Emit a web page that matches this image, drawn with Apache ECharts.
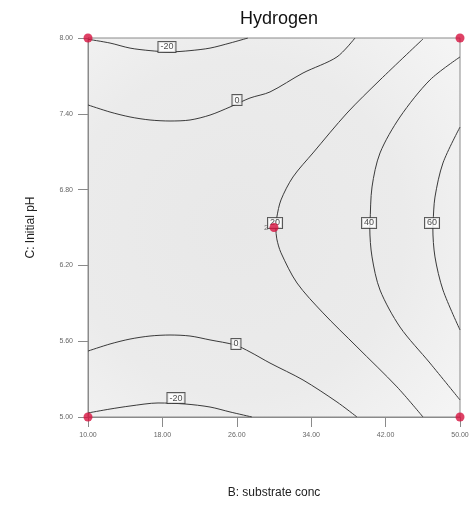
<!DOCTYPE html>
<html>
<head>
<meta charset="utf-8">
<script src="https://cdn.jsdelivr.net/npm/echarts@6/dist/echarts.min.js"></script>
<style>
html,body{margin:0;padding:0;background:#fff;}
#chart{width:476px;height:517px;}
</style>
</head>
<body>
<div id="chart"></div>
<script>
const xTicks = [10, 18, 26, 34, 42, 50];
const yTicks = [5.0, 5.6, 6.2, 6.8, 7.4, 8.0];

const contourNeg20Top = [[10,7.99],[12.37,7.96],[14.52,7.92],[16.67,7.90],[18.82,7.89],[20.97,7.90],[23.12,7.92],[25.27,7.96],[27.2,8.0]];
const contour0Top = [[10,7.47],[12.37,7.414],[14.52,7.375],[16.67,7.351],[18.82,7.343],[20.97,7.351],[23.12,7.39],[25.27,7.454],[27.42,7.525],[29.57,7.573],[33.12,7.723],[36.77,7.85],[38.71,8.0]];
const contour20 = [[46.02,7.992],[41.40,7.668],[37.85,7.406],[34.19,7.09],[32.04,6.9],[30.75,6.718],[30.3,6.58],[30.2,6.496],[30.3,6.41],[30.75,6.3],[32.47,6.061],[35.27,5.824],[38.92,5.555],[43.23,5.238],[46.02,5.0]];
const contour40 = [[50,7.85],[46.77,7.668],[43.55,7.375],[41.40,7.09],[40.54,6.821],[40.32,6.536],[40.3,6.496],[40.54,6.267],[41.40,6.005],[43.55,5.712],[46.77,5.427],[50,5.135]];
const contour60 = [[50,7.295],[48.17,7.011],[47.31,6.741],[47.10,6.536],[47.08,6.496],[47.31,6.267],[48.17,6.005],[50,5.689]];
const contour0Bottom = [[10,5.522],[12.37,5.578],[14.52,5.617],[16.67,5.641],[18.82,5.649],[20.97,5.641],[23.12,5.61],[25.81,5.57],[27.42,5.515],[29.57,5.427],[33.12,5.293],[36.77,5.119],[38.92,5.0]];
const contourNeg20Bottom = [[10,5.032],[12.37,5.063],[14.52,5.087],[17.53,5.111],[20.43,5.103],[23.12,5.079],[25.27,5.04],[27.63,5.0]];

const contourLines = [contourNeg20Top, contour0Top, contour20, contour40, contour60, contour0Bottom, contourNeg20Bottom];

const contourLabelPos = [[18.49,7.929],[26.02,7.509],[30.11,6.536],[40.22,6.536],[46.99,6.536],[25.91,5.578],[19.46,5.150]];
const contourLabelText = ['-20','0','20','40','60','0','-20'];

const designPoints = [[10,8.0],[50,8.0],[30,6.5],[10,5.0],[50,5.0]];
const designPointLabels = ['','','2','',''];

const chart = echarts.init(document.getElementById('chart'), null, {renderer:'canvas'});

const series = [];
contourLines.forEach(function(pts){
  series.push({
    type:'line', data:pts, smooth:0.3, symbol:'none', clip:true,
    lineStyle:{color:'#3a3a3a', width:1}, z:3, silent:true
  });
});
series.push({
  type:'scatter', symbolSize:0, z:5, silent:true,
  data: contourLabelPos.map(function(p,i){return {value:p, name:contourLabelText[i]};}),
  label:{show:true, position:'inside', formatter:function(p){return p.name;},
    color:'#222', fontSize:9, fontFamily:'Liberation Sans, Arial, sans-serif',
    backgroundColor:'#ffffff', borderColor:'#333', borderWidth:1, padding:[1,2,0,2]}
});
series.push({
  type:'scatter', symbolSize:9, z:6, silent:true, clip:false,
  itemStyle:{color:'#d6123e'},
  data: designPoints.map(function(p,i){return {value:p, name:designPointLabels[i]};}),
  label:{show:true, position:'left', distance:1, formatter:function(p){return p.name;},
    color:'#555', fontSize:8, fontFamily:'Liberation Sans, Arial, sans-serif'}
});

chart.setOption({
  animation:false,
  backgroundColor:'#ffffff',
  title:{text:'Hydrogen', left:274, top:5, textAlign:'center',
    textStyle:{fontSize:18, fontWeight:'normal', color:'#111', fontFamily:'Liberation Sans, Arial, sans-serif'}},
  grid:{left:88, right:16, top:38, bottom:100, show:true, borderColor:'#8a8a8a', borderWidth:1,
    backgroundColor:{type:'radial', x:0.4, y:0.5, r:0.75,
      colorStops:[{offset:0,color:'#e8e8e8'},{offset:0.6,color:'#ebebeb'},{offset:1,color:'#f4f4f4'}]}},
  xAxis:{type:'value', min:10, max:50, interval:8,
    name:'B: substrate conc', nameLocation:'middle', nameGap:70,
    nameTextStyle:{fontSize:12, color:'#222', fontFamily:'Liberation Sans, Arial, sans-serif'},
    axisLine:{show:true, lineStyle:{color:'#8a8a8a'}},
    axisTick:{show:true, length:10, lineStyle:{color:'#8a8a8a'}},
    axisLabel:{fontSize:7, color:'#666', margin:15, fontFamily:'Liberation Sans, Arial, sans-serif',
      formatter:function(v){return v.toFixed(2);}},
    splitLine:{show:false}},
  yAxis:{type:'value', min:5, max:8, interval:0.6,
    name:'C: Initial pH', nameLocation:'middle', nameGap:51, nameRotate:90,
    nameTextStyle:{fontSize:12, color:'#222', fontFamily:'Liberation Sans, Arial, sans-serif'},
    axisLine:{show:true, lineStyle:{color:'#8a8a8a'}},
    axisTick:{show:true, length:10, lineStyle:{color:'#8a8a8a'}},
    axisLabel:{fontSize:7, color:'#666', margin:15, fontFamily:'Liberation Sans, Arial, sans-serif',
      formatter:function(v){return v.toFixed(2);}},
    splitLine:{show:false}},
  series:series
});
</script>
</body>
</html>
